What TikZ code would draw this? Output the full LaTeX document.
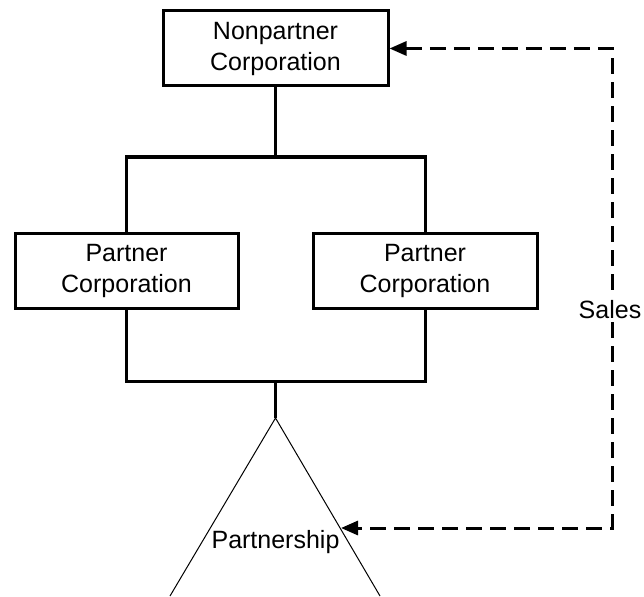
\documentclass[tikz,border=0pt]{standalone}
\usepackage{fontspec}
\setmainfont{Liberation Sans}
\usetikzlibrary{arrows.meta}
\begin{document}
\begin{tikzpicture}[x=1pt,y=-1pt,
  every node/.style={font=\fontsize{25}{31}\selectfont},
  corpbox/.style={draw, line width=3pt, minimum height=75pt, inner sep=0pt, align=center},
  link/.style={line width=3pt},
  tri/.style={line width=1pt},
  sales/.style={line width=3pt, dash pattern=on 16pt off 8pt, {Triangle[length=17pt,width=14pt]}-{Triangle[length=17pt,width=14pt]}},
  lbl/.style={fill=white, inner sep=3pt}
]
\useasboundingbox (0,0) rectangle (644,596);
\node[corpbox, minimum width=225pt] (np) at (275.5,48.5) {Nonpartner\\Corporation};
\node[corpbox, minimum width=223pt] (pl) at (126.5,270.5) {Partner\\Corporation};
\node[corpbox, minimum width=224pt] (pr) at (425,270.5) {Partner\\Corporation};
\coordinate (j1) at (275.5,157);
\coordinate (j2) at (275.5,381);
\coordinate (apex) at (275.5,418);
\coordinate (bl) at (170,596);
\coordinate (br) at (380,596);
\draw[link] (np.south) -- (j1);
\draw[link] (pl.north) |- (j1) -| (pr.north);
\draw[link] (pl.south) |- (j2) -| (pr.south);
\draw[link] (j2) -- (apex);
\draw[tri] (bl) -- (apex) -- (br);
\node[anchor=base] (ps) at (275.5,548) {Partnership};
\coordinate (pt) at (341,528);
\coordinate (cr) at (612,528);
\draw[sales] (np.east) -| (cr) -- (pt);
\node[lbl] (sl) at (610,310) {Sales};
\end{tikzpicture}
\end{document}
